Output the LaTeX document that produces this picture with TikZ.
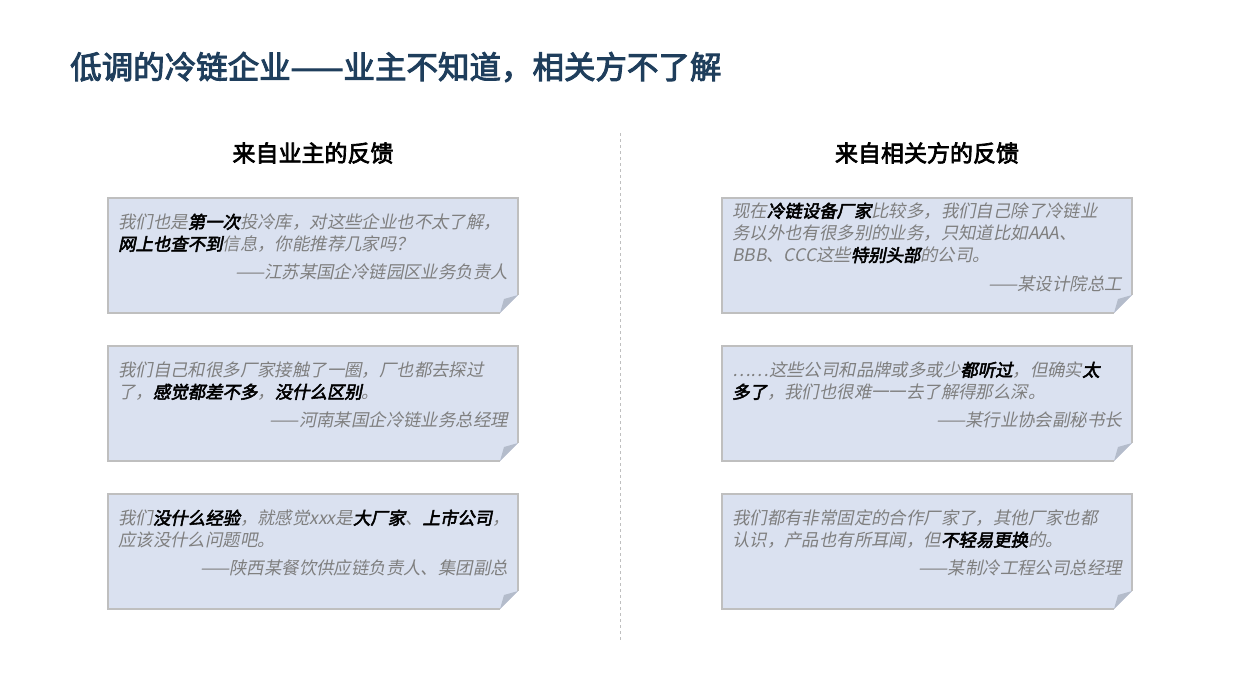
\documentclass[tikz,border=0pt]{standalone}
\usepackage{fontspec}
\setmainfont{Noto Sans CJK SC}
\newfontfamily\cjk{Noto Sans CJK SC}
\newfontfamily\cjki{Noto Sans CJK SC}[FakeSlant=0.2]
\newfontfamily\cjkb{Noto Sans CJK SC}[FakeBold=3]
\newfontfamily\cjkbi{Noto Sans CJK SC}[FakeBold=3,FakeSlant=0.2]
\definecolor{titleblue}{HTML}{1F3E5C}
\definecolor{boxfill}{HTML}{DAE1F0}
\definecolor{boxline}{HTML}{BFBFBF}
\definecolor{foldc}{HTML}{B4BCCB}
\definecolor{txt}{HTML}{7F7F7F}
\newcommand{\B}[1]{{\cjkbi\color{black}#1}}
\tikzset{
 x=1pt,y=-1pt,
 ln/.style={anchor=west,inner sep=0,font=\cjki\fontsize{17.4}{17.4}\selectfont,text=txt},
 attr/.style={anchor=east,inner sep=0,font=\cjki\fontsize{17.4}{17.4}\selectfont,text=txt},
 hd/.style={inner sep=0,font=\cjkb\fontsize{23}{23}\selectfont},
}
\newcommand{\note}[3]{%
 \fill[boxfill] (#1,#2) -- (#1+410,#2) -- (#1+410,#2+97) -- (#1+392,#2+115) -- (#1,#2+115) -- cycle;
 \draw[boxline,line width=1.2] (#1+392,#2+115) -- (#1,#2+115) -- (#1,#2) -- (#1+410,#2) -- (#1+410,#2+97);
 \fill[foldc] (#1+410,#2+97) -- (#1+392,#2+115) -- (#1+396,#2+101) -- cycle;
 \node[coordinate] (#3) at (#1,#2) {};}
\begin{document}
\begin{tikzpicture}
\useasboundingbox (0,0) rectangle (1240,697);
\node[anchor=west,inner sep=0,font=\cjkb\fontsize{31.5}{31.5}\selectfont,text=titleblue] (title) at (70,67) {低调的冷链企业——业主不知道，相关方不了解};
\node[hd] (h1) at (313,153) {来自业主的反馈};
\node[hd] (h2) at (927,153) {来自相关方的反馈};
\coordinate (d1) at (620,133); \coordinate (d2) at (620,640);
\draw[boxline,dashed,line width=1] (d1) -- (d2);
\note{108}{198}{b1}\note{108}{346}{b2}\note{108}{494}{b3}
\note{722}{198}{b4}\note{722}{346}{b5}\note{722}{494}{b6}
% left
\node[ln] (l11) at (118,222) {我们也是\B{第一次}投冷库，对这些企业也不太了解，};
\node[ln] (l12) at (118,244) {\B{网上也查不到}信息，你能推荐几家吗？};
\node[attr] (l13) at (508,272) {——江苏某国企冷链园区业务负责人};
\node[ln] (l21) at (118,370) {我们自己和很多厂家接触了一圈，厂也都去探过};
\node[ln] (l22) at (118,392) {了，\B{感觉都差不多}，\B{没什么区别}。};
\node[attr] (l23) at (508,420) {——河南某国企冷链业务总经理};
\node[ln] (l31) at (118,518) {我们\B{没什么经验}，就感觉xxx是\B{大厂家}、\B{上市公司}，};
\node[ln] (l32) at (118,540) {应该没什么问题吧。};
\node[attr] (l33) at (508,568) {——陕西某餐饮供应链负责人、集团副总};
% right
\node[ln] (r11) at (732,211) {现在\B{冷链设备厂家}比较多，我们自己除了冷链业};
\node[ln] (r12) at (732,233) {务以外也有很多别的业务，只知道比如AAA、};
\node[ln] (r13) at (732,255) {BBB、CCC这些\B{特别头部}的公司。};
\node[attr] (r14) at (1122,284) {——某设计院总工};
\node[ln] (r21) at (732,370) {……这些公司和品牌或多或少\B{都听过}，但确实\B{太}};
\node[ln] (r22) at (732,392) {\B{多了}，我们也很难一一去了解得那么深。};
\node[attr] (r23) at (1122,420) {——某行业协会副秘书长};
\node[ln] (r31) at (732,518) {我们都有非常固定的合作厂家了，其他厂家也都};
\node[ln] (r32) at (732,540) {认识，产品也有所耳闻，但\B{不轻易更换}的。};
\node[attr] (r33) at (1122,568) {——某制冷工程公司总经理};
\end{tikzpicture}
\end{document}
